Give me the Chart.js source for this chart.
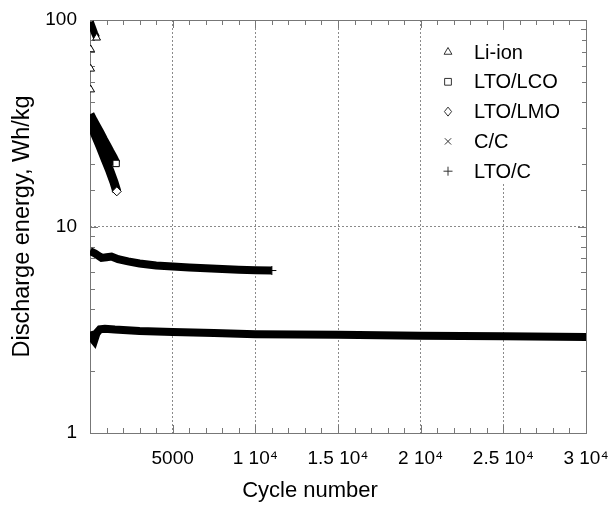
<!DOCTYPE html>
<html>
<head>
<meta charset="utf-8">
<script src="https://cdn.jsdelivr.net/npm/chart.js@4/dist/chart.umd.min.js"></script>
<style>
  html, body { margin: 0; padding: 0; background: #fff; }
  #wrap { width: 611px; height: 506px; }
</style>
</head>
<body>
<div id="wrap"><canvas id="chart" width="611" height="506"></canvas></div>
<script>
// Series (cycle number vs discharge energy, Wh/kg)
const seriesNames = ['Li-ion', 'LTO/LCO', 'LTO/LMO', 'C/C', 'LTO/C'];
const seriesMarkers = ['triangle', 'rect', 'rectRot', 'crossRot', 'cross'];

const liIonCycles = [40, 40, 40, 20, 150, 280, 400];
const liIonEnergy = [46, 58, 72, 98, 92, 86, 82];

const lcoCycles = [0, 200, 400, 600, 800, 1000, 1200, 1400, 1580];
const lcoEnergy = [35, 32.5, 30.4, 28.5, 26.5, 24.8, 23.1, 21.6, 20.2];

const lmoCycles = [0, 300, 600, 900, 1200, 1450, 1620];
const lmoEnergy = [32, 28, 24.5, 21.3, 18.6, 16.4, 14.8];

const ccCycles = [0, 100, 250, 400, 600, 900, 1500, 3000, 5000, 7500, 10000, 15000, 20000, 25000, 30000];
const ccEnergy = [3.1, 2.9, 2.8, 3.05, 3.18, 3.2, 3.17, 3.12, 3.08, 3.05, 3.01, 2.99, 2.96, 2.94, 2.92];

const ltocCycles = [0, 300, 700, 1000, 1300, 1700, 2300, 3000, 4000, 5000, 6000, 7000, 8000, 9000, 10000, 11000];
const ltocEnergy = [7.6, 7.4, 7.05, 7.1, 7.15, 6.95, 6.78, 6.62, 6.48, 6.4, 6.33, 6.27, 6.22, 6.18, 6.14, 6.12];

// Axis labels
const xLabelValues = [5000, 10000, 15000, 20000, 25000, 30000];
const xLabelTexts = ['5000', '1 10\u2074', '1.5 10\u2074', '2 10\u2074', '2.5 10\u2074', '3 10\u2074'];
const yLabelValues = [1, 10, 100];
const xTitle = 'Cycle number';
const yTitle = 'Discharge energy, Wh/kg';

const FONT = "'Liberation Sans', Arial, Helvetica, sans-serif";
Chart.defaults.font.family = FONT;
Chart.defaults.color = '#000';

function toPoints(xs, ys) {
    return xs.map((x, i) => ({ x: x, y: ys[i] }));
}

const isDecade = v => Math.abs(Math.log10(v) - Math.round(Math.log10(v))) < 1e-9;

// only show the markers that stand out from the solid bands
function markerRadius(showIdx) {
    return ctx => {
        const last = ctx.dataset.data.length - 1;
        return (showIdx.includes(ctx.dataIndex) || ctx.dataIndex === last) ? 4.5 : 0;
    };
}

function makeDataset(i, xs, ys, width, showIdx) {
    return {
        label: seriesNames[i],
        data: toPoints(xs, ys),
        pointStyle: seriesMarkers[i],
        borderColor: '#000',
        backgroundColor: '#fff',
        borderWidth: width,
        pointBorderWidth: 1,
        pointBorderColor: '#000',
        pointBackgroundColor: '#fff',
        pointRadius: markerRadius(showIdx),
        tension: 0,
        fill: false
    };
}

const datasets = [
    makeDataset(0, liIonCycles, liIonEnergy, 7, [0, 1, 2]),
    makeDataset(1, lcoCycles, lcoEnergy, 9, []),
    makeDataset(2, lmoCycles, lmoEnergy, 9, []),
    makeDataset(3, ccCycles, ccEnergy, 8, []),
    makeDataset(4, ltocCycles, ltocEnergy, 8, [])
];
// the first Li-ion cycles are lone markers, no band between them
datasets[0].segment = {
    borderColor: ctx => ctx.p0DataIndex < 3 ? 'rgba(0,0,0,0)' : '#000'
};

function drawMarker(ctx, style, x, y, r) {
    ctx.beginPath();
    let closed = true;
    if (style === 'triangle') {
        ctx.moveTo(x, y - r);
        ctx.lineTo(x + r * 0.87, y + r * 0.5);
        ctx.lineTo(x - r * 0.87, y + r * 0.5);
        ctx.closePath();
    } else if (style === 'rect') {
        ctx.rect(x - r * 0.75, y - r * 0.75, r * 1.5, r * 1.5);
    } else if (style === 'rectRot') {
        ctx.moveTo(x, y - r);
        ctx.lineTo(x + r * 0.8, y);
        ctx.lineTo(x, y + r);
        ctx.lineTo(x - r * 0.8, y);
        ctx.closePath();
    } else if (style === 'crossRot') {
        const d = r * 0.7;
        ctx.moveTo(x - d, y - d); ctx.lineTo(x + d, y + d);
        ctx.moveTo(x + d, y - d); ctx.lineTo(x - d, y + d);
        closed = false;
    } else {
        ctx.moveTo(x - r, y); ctx.lineTo(x + r, y);
        ctx.moveTo(x, y - r); ctx.lineTo(x, y + r);
        closed = false;
    }
    if (closed) ctx.fill();
    ctx.stroke();
}

// frame plus inward ticks on all four sides
const frameTicks = {
    id: 'frameTicks',
    beforeDatasetsDraw(chart) {
        const { ctx, chartArea: a, scales: { x, y } } = chart;
        ctx.save();
        ctx.strokeStyle = '#777';
        ctx.lineWidth = 1;
        ctx.beginPath();
        x.ticks.forEach(t => {
            const px = Math.round(x.getPixelForValue(t.value)) + 0.5;
            const len = t.value % 5000 === 0 ? 8 : 5;
            ctx.moveTo(px, a.bottom); ctx.lineTo(px, a.bottom - len);
            ctx.moveTo(px, a.top); ctx.lineTo(px, a.top + len);
        });
        y.ticks.forEach(t => {
            const py = Math.round(y.getPixelForValue(t.value)) + 0.5;
            const len = isDecade(t.value) ? 8 : 5;
            ctx.moveTo(a.left, py); ctx.lineTo(a.left + len, py);
            ctx.moveTo(a.right, py); ctx.lineTo(a.right - len, py);
        });
        ctx.stroke();
        ctx.strokeRect(Math.round(a.left) + 0.5, Math.round(a.top) + 0.5,
            Math.round(a.width), Math.round(a.height));
        ctx.restore();
    }
};

// legend drawn inside the plot, upper right, plus the x title (sits left of centre)
const innerLegend = {
    id: 'innerLegend',
    afterDraw(chart) {
        const { ctx, chartArea: a } = chart;
        ctx.save();
        ctx.fillStyle = '#fff';
        ctx.fillRect(a.right - 154, a.top + 12, 150, 152);
        ctx.font = '20px ' + FONT;
        ctx.textBaseline = 'middle';
        ctx.textAlign = 'left';
        chart.data.datasets.forEach((ds, i) => {
            const yy = a.top + 33 + i * 29.8;
            ctx.strokeStyle = '#333';
            ctx.fillStyle = '#fff';
            ctx.lineWidth = 1;
            drawMarker(ctx, ds.pointStyle, a.right - 138, yy - 1, 4.5);
            ctx.fillStyle = '#000';
            ctx.fillText(ds.label, a.right - 112, yy);
        });
        ctx.font = '22px ' + FONT;
        ctx.textAlign = 'center';
        ctx.fillText(xTitle, (a.left + a.right) / 2 - 28, 491);
        ctx.restore();
    }
};

const gridColor = '#8a8a8a';

new Chart(document.getElementById('chart'), {
    type: 'line',
    data: { datasets: datasets },
    options: {
        responsive: false,
        animation: false,
        layout: { padding: { top: 20, right: 25, left: 0, bottom: 0 } },
        plugins: {
            legend: { display: false },
            tooltip: { enabled: false }
        },
        scales: {
            x: {
                type: 'linear',
                min: 0,
                max: 30000,
                afterFit: scale => {
                    scale.height = 73;
                    scale.paddingLeft = 0;
                    scale.paddingRight = 0;
                },
                grid: {
                    drawTicks: false,
                    lineWidth: 1,
                    color: ctx => {
                        const v = ctx.tick ? ctx.tick.value : 0;
                        return (v % 5000 === 0 && v > 0 && v < 30000) ? gridColor : 'rgba(0,0,0,0)';
                    }
                },
                border: { display: false, dash: [2, 2] },
                ticks: {
                    stepSize: 1000,
                    autoSkip: false,
                    maxRotation: 0,
                    padding: 14,
                    font: { size: 19 },
                    color: '#000',
                    callback: value => {
                        const k = xLabelValues.indexOf(value);
                        return k >= 0 ? xLabelTexts[k] : '';
                    }
                },
                title: { display: false, text: xTitle }
            },
            y: {
                type: 'logarithmic',
                min: 1,
                max: 100,
                afterFit: scale => {
                    scale.width = 90;
                    scale.paddingTop = 0;
                    scale.paddingBottom = 0;
                },
                grid: {
                    drawTicks: false,
                    lineWidth: 1,
                    color: ctx => {
                        const v = ctx.tick ? ctx.tick.value : 0;
                        return (isDecade(v) && v > 1 && v < 100) ? gridColor : 'rgba(0,0,0,0)';
                    }
                },
                border: { display: false, dash: [2, 2] },
                ticks: {
                    autoSkip: false,
                    padding: 13,
                    font: { size: 19 },
                    color: '#000',
                    callback: value => yLabelValues.some(v => Math.abs(v - value) < 1e-6) ? String(value) : ''
                },
                title: {
                    display: true,
                    text: yTitle,
                    font: { size: 23.5 },
                    color: '#000',
                    padding: { top: 8, bottom: 0 }
                }
            }
        }
    },
    plugins: [frameTicks, innerLegend]
});
</script>
</body>
</html>
